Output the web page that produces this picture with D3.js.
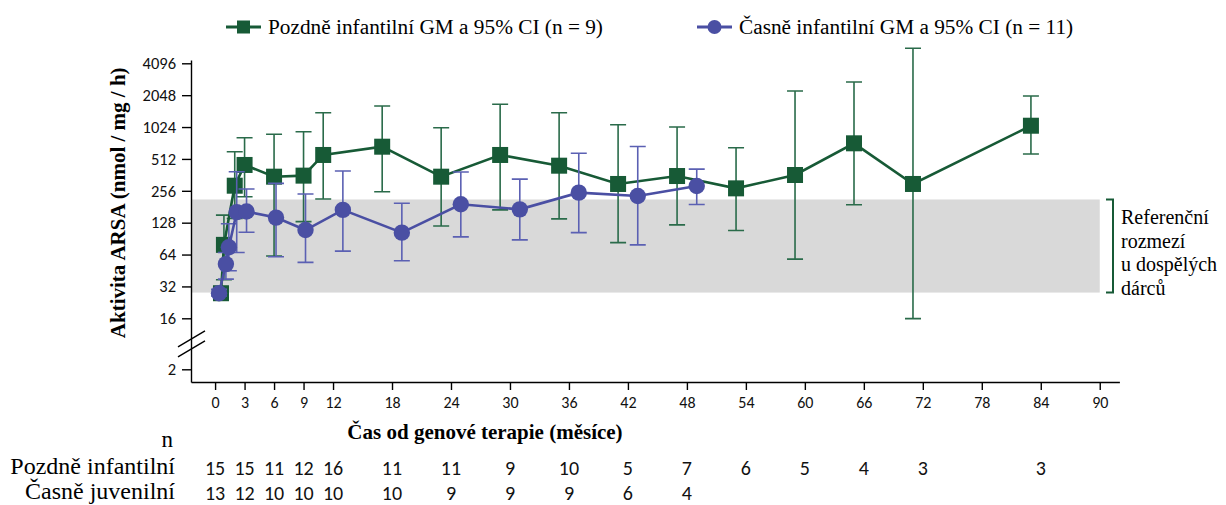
<!DOCTYPE html>
<html>
<head>
<meta charset="utf-8">
<script src="https://cdn.jsdelivr.net/npm/d3@7"></script>
<style>
  body { margin: 0; background: #fff; }
  .serif { font-family: "Liberation Serif", "Times New Roman", serif; }
  .sans { font-family: Carlito, Calibri, Lato, sans-serif; }
</style>
</head>
<body>
<svg id="chart" width="1226" height="505"></svg>
<script>
// Pozdne infantilni (green squares) - plotted month, GM, 95% CI
const lateMonths = [0.6, 0.9, 2, 3, 6, 9, 11, 17, 23, 29, 35, 41, 47, 53, 59, 65, 71, 83];
const lateGM     = [27.6, 79, 286, 449, 348, 356, 558, 668, 348, 558, 442, 297, 353, 270, 361, 719, 297, 1054];
const lateLo     = [25, 37, 140, 225, 62, 131, 214, 251, 119, 169, 139, 83, 122, 108, 58, 189, 15.8, 570];
const lateHi     = [31, 151, 599, 812, 875, 925, 1399, 1618, 1010, 1680, 1399, 1078, 1025, 653, 2243, 2727, 5680, 2011];

// Casne infantilni (blue circles)
const earlyMonths = [0.4, 1.1, 1.4, 2.2, 3.2, 6.2, 9.2, 13, 19, 25, 31, 37, 43, 49];
const earlyGM     = [27.6, 52, 75, 161, 163, 143, 109, 169, 103, 191, 171, 246, 229, 284];
const earlyLo     = [26, 37.5, 45, 67, 104, 61, 54, 69, 56, 94, 88, 103, 79, 190];
const earlyHi     = [30, 67, 125, 388, 266, 301, 239, 394, 195, 385, 330, 580, 670, 410];

const xTicks = [0, 3, 6, 9, 12, 18, 24, 30, 36, 42, 48, 54, 60, 66, 72, 78, 84, 90];
const yTicks = [2, 16, 32, 64, 128, 256, 512, 1024, 2048, 4096];
const refRange = [28, 212];

const nMonths = [0, 3, 6, 9, 12, 18, 24, 30, 36, 42, 48, 54, 60, 66, 72, 84];
const nLate  = [15, 15, 11, 12, 16, 11, 11, 9, 10, 5, 7, 6, 5, 4, 3, 3];
const nEarly = [13, 12, 10, 10, 10, 10, 9, 9, 9, 6, 4];
const nRowLabels = ["Pozdně infantilní", "Časně juvenilní"];

const legendLabels = ["Pozdně infantilní GM a 95% CI (n = 9)", "Časně infantilní GM a 95% CI (n = 11)"];
const refLabel = ["Referenční", "rozmezí", "u dospělých", "dárců"];

const green = "#175a36", greenBar = "#2a6b4a";
const blue = "#4a4fa3", blueBar = "#5b60b3";

const svg = d3.select("#chart");

const x = d3.scaleLinear().domain([-2.45, 92]).range([191, 1119.4]);
// broken log2 axis: compressed segment between 2 and 16
const y = d3.scaleLog().base(2)
  .domain([1.5, 2, 16, 4096, 4400])
  .range([382, 369.3, 318.3, 63.3, 60]);

// reference band
svg.append("rect")
  .attr("x", x.range()[0]).attr("width", x(90) - x.range()[0])
  .attr("y", y(refRange[1])).attr("height", y(refRange[0]) - y(refRange[1]))
  .attr("fill", "#d9d9d9");

// bracket + label
const bx = 1113;
svg.append("path")
  .attr("d", `M${bx - 7},${y(refRange[1])}H${bx}V${y(refRange[0])}H${bx - 7}`)
  .attr("fill", "none").attr("stroke", green).attr("stroke-width", 2);
svg.append("g").selectAll("text").data(refLabel).join("text")
  .attr("class", "serif")
  .attr("x", 1121).attr("y", (d, i) => 224 + i * 23.5)
  .attr("font-size", 20).text(d => d);

// axes
const yAxis = svg.append("g").attr("transform", `translate(${x.range()[0]},0)`)
  .call(d3.axisLeft(y).tickValues(yTicks).tickFormat(d3.format("d")).tickSize(9).tickPadding(6).tickSizeOuter(0));
yAxis.selectAll("text").attr("class", "sans").attr("font-size", 16.5).attr("fill", "#111");

const xAxis = svg.append("g").attr("transform", `translate(0,${y.range()[0]})`)
  .call(d3.axisBottom(x).tickValues(xTicks).tickSize(8).tickPadding(7).tickSizeOuter(0));
xAxis.selectAll("text").attr("class", "sans").attr("font-size", 16).attr("fill", "#111");

svg.selectAll(".domain, .tick line").attr("stroke", "#000").attr("stroke-width", 1.4);

// axis break marks
const yMid = (y(16) + y(2)) / 2;
[-5, 5].forEach(off => {
  svg.append("line")
    .attr("x1", x.range()[0] - 13).attr("y1", yMid + off + 8)
    .attr("x2", x.range()[0] + 14).attr("y2", yMid + off - 8)
    .attr("stroke", "#000").attr("stroke-width", 1.4);
});

// series
function drawSeries(months, gm, lo, hi, color, barColor, shape) {
  const g = svg.append("g");
  const pts = months.map((m, i) => ({ m, gm: gm[i], lo: lo[i], hi: hi[i] }));
  const cap = 8;
  const bars = g.append("g").attr("stroke", barColor).attr("stroke-width", 1.6).attr("fill", "none");
  bars.selectAll("path").data(pts).join("path")
    .attr("d", d => `M${x(d.m)},${y(d.lo)}V${y(d.hi)}M${x(d.m) - cap},${y(d.hi)}h${2 * cap}M${x(d.m) - cap},${y(d.lo)}h${2 * cap}`);
  g.append("path").datum(pts)
    .attr("fill", "none").attr("stroke", color).attr("stroke-width", 2.6)
    .attr("d", d3.line().x(d => x(d.m)).y(d => y(d.gm)));
  if (shape === "square") {
    g.selectAll("rect").data(pts).join("rect")
      .attr("x", d => x(d.m) - 8).attr("y", d => y(d.gm) - 8)
      .attr("width", 16).attr("height", 16).attr("fill", color);
  } else {
    g.selectAll("circle").data(pts).join("circle")
      .attr("cx", d => x(d.m)).attr("cy", d => y(d.gm)).attr("r", 8.2).attr("fill", color);
  }
}
drawSeries(lateMonths, lateGM, lateLo, lateHi, green, greenBar, "square");
drawSeries(earlyMonths, earlyGM, earlyLo, earlyHi, blue, blueBar, "circle");

// legend
const legend = svg.append("g");
[[226, green, "square"], [697, blue, "circle"]].forEach(([lx, c, s], i) => {
  legend.append("line").attr("x1", lx).attr("x2", lx + 35).attr("y1", 27).attr("y2", 27)
    .attr("stroke", c).attr("stroke-width", 3);
  if (s === "square") {
    legend.append("rect").attr("x", lx + 11).attr("y", 20.5).attr("width", 13).attr("height", 13).attr("fill", c);
  } else {
    legend.append("circle").attr("cx", lx + 17.5).attr("cy", 27).attr("r", 7).attr("fill", c);
  }
  legend.append("text").attr("class", "serif").attr("x", lx + 42).attr("y", 34)
    .attr("font-size", 21.3).text(legendLabels[i]);
});

// titles
svg.append("text").attr("class", "serif")
  .attr("transform", `translate(125,${(y(4096) + y(16)) / 2 + 12}) rotate(-90)`)
  .attr("text-anchor", "middle").attr("font-size", 21).attr("font-weight", "bold")
  .text("Aktivita ARSA (nmol / mg / h)");

svg.append("text").attr("class", "serif")
  .attr("x", 485).attr("y", 439).attr("text-anchor", "middle")
  .attr("font-size", 21).attr("font-weight", "bold")
  .text("Čas od genové terapie (měsíce)");

// n table
svg.append("text").attr("class", "serif").attr("x", 173).attr("y", 447)
  .attr("text-anchor", "end").attr("font-size", 23).text("n");
nRowLabels.forEach((lab, i) => {
  svg.append("text").attr("class", "serif").attr("x", 175).attr("y", 474 + i * 25)
    .attr("text-anchor", "end").attr("font-size", 24).text(lab);
});
[nLate, nEarly].forEach((row, i) => {
  svg.append("g").selectAll("text").data(row).join("text")
    .attr("class", "sans")
    .attr("x", (d, j) => x(nMonths[j])).attr("y", 475 + i * 24.5)
    .attr("text-anchor", "middle").attr("font-size", 20).attr("fill", "#111")
    .text(d => d);
});
</script>
</body>
</html>
